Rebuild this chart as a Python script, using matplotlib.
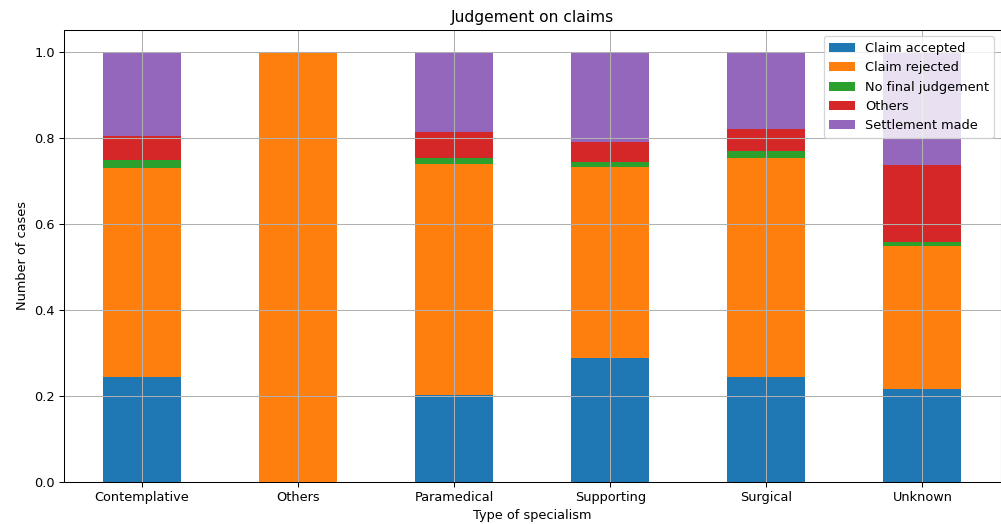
import matplotlib
matplotlib.use("Agg")
import matplotlib.pyplot as plt
import numpy as np
import pandas as pd

specialisms = ["Contemplative", "Others", "Paramedical", "Supporting", "Surgical", "Unknown"]

claim_accepted = [0.245, 0.0, 0.202, 0.287, 0.243, 0.217]
claim_rejected = [0.485, 1.0, 0.536, 0.445, 0.510, 0.332]
no_final_judgement = [0.018, 0.0, 0.014, 0.011, 0.016, 0.008]
others = [0.056, 0.0, 0.061, 0.047, 0.051, 0.180]
settlement_made = [0.196, 0.0, 0.187, 0.210, 0.180, 0.263]

df = pd.DataFrame(
    {
        "Claim accepted": claim_accepted,
        "Claim rejected": claim_rejected,
        "No final judgement": no_final_judgement,
        "Others": others,
        "Settlement made": settlement_made,
    },
    index=specialisms,
)

W, H = 1001, 524
DPI = 93
fig = plt.figure(figsize=(W / DPI, H / DPI), dpi=DPI)
ax = fig.add_axes([64 / W, (H - 482) / H, 936.5 / W, 452 / H])

df.plot(kind="bar", stacked=True, ax=ax, grid=True, rot=0)
ax.set_title("Judgement on claims")
ax.set_xlabel("Type of specialism")
ax.set_ylabel("Number of cases")
ax.legend(loc="upper right")

fig.savefig("out.png", dpi=DPI)
